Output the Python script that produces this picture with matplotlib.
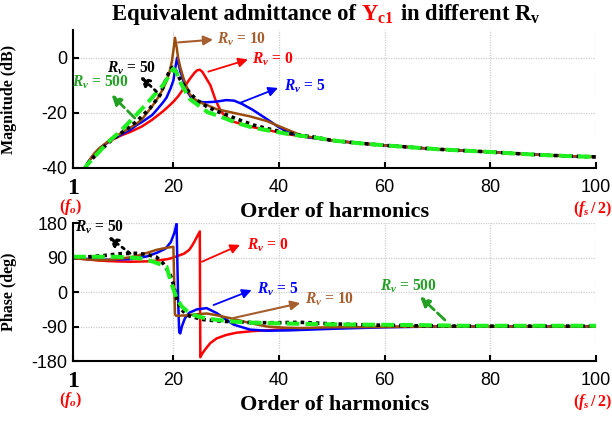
import matplotlib
matplotlib.use("Agg")
import matplotlib.pyplot as plt
from matplotlib.offsetbox import TextArea, HPacker, AnchoredOffsetbox

plt.rcParams["mathtext.fontset"] = "custom"
plt.rcParams["mathtext.rm"] = "Liberation Serif:bold"
plt.rcParams["mathtext.bf"] = "Liberation Serif:bold"
plt.rcParams["mathtext.it"] = "Liberation Serif:italic:bold"
plt.rcParams["axes.unicode_minus"] = False

SERIF = "Liberation Serif"
SANS = "Liberation Sans"

RED = "#ff0000"
BLUE = "#0000ff"
BROWN = "#9a4c0c"
BLACK = "#000000"
GREEN = "#1ff01f"
GREEN_TXT = "#23a023"
BROWN_TXT = "#a65e2e"

# magnitude (dB) vs harmonic order
tail_h = [50, 55, 60, 65, 70, 75, 80, 85, 90, 95, 100]
tail_db = [-30.0, -31.0, -31.8, -32.5, -33.2, -33.7, -34.2, -34.8, -35.3, -35.7, -36.0]

mag_r0_h = [3.0, 4, 5, 6, 8, 10, 12, 14, 16, 18, 19, 20, 21, 22, 23, 24, 24.5, 25, 25.5, 26, 27, 28, 29, 30,
            31.3, 34.5, 37.7, 40.8, 44, 47] + tail_h
mag_r0_db = [-41, -37.5, -35, -33, -30.2, -28.3, -26.8, -25, -22.5, -19.5, -17.8, -16, -13.8, -11, -8, -5.5,
             -4.6, -4.4, -5.2, -6.8, -10, -15.5, -19.5, -21.5, -23.2, -25, -26.2, -27.4, -28.5, -29.3] + tail_db

mag_r5_h = [3.0, 4, 5, 6, 8, 10, 12, 13, 14, 16, 17, 18, 18.7, 19.5, 20, 20.3, 20.7, 21, 21.3, 21.6, 22, 22.5,
            23.5, 24.5, 26, 28, 30, 31.5, 33, 35, 37.7, 40, 42, 44, 47] + tail_h
mag_r5_db = [-41, -37.5, -35, -33, -30, -28, -26, -24.5, -23.4, -20.8, -18.6, -16.3, -14.5, -11, -8.3, -4.5, 0,
             -2.5, -5, -6.5, -9.2, -12, -14.8, -15.9, -16.2, -16, -15.4, -15.6, -16.8, -18.9, -22.3, -25.3,
             -27.2, -28.4, -29.3] + tail_db

mag_r10_h = [3.0, 4, 5, 6, 8, 10, 12, 13, 14, 16, 17, 18, 18.7, 19.3, 19.7, 20.0, 20.3, 20.6, 20.9, 21.3, 21.9,
             22.5, 23.1, 24, 25, 27, 28.2, 31.3, 34.5, 37.7, 40.8, 44, 47] + tail_h
mag_r10_db = [-41, -37.5, -34.8, -32.8, -29.8, -27.5, -25.2, -24, -22.5, -17.6, -14.8, -11.5, -8.6, -5, -1.5, 2.5,
              7.2, 4, -0.1, -3.5, -7.4, -10.5, -13.3, -15, -16.2, -17.7, -18.7, -20, -21.3, -23, -25.5, -28,
              -29.2] + tail_db

mag_r50_h = [3.0, 4, 5.2, 6.5, 8, 10.5, 13, 15.6, 17.5, 18.7, 19.4, 20, 20.5, 21.3, 22.2, 23.1, 24.5, 26.3, 28,
             30, 32.5, 35.1, 37.5, 40.2, 43, 47] + tail_h
mag_r50_db = [-41, -38, -35.5, -33, -30.4, -26.8, -23.2, -18.3, -13.5, -7.4, -4.2, -3.3, -5, -8, -10.5, -12.8,
              -15.5, -17.7, -19.3, -20.7, -22.6, -24.4, -25.6, -26.8, -27.8, -28.9] + tail_db

mag_r500_h = [3.0, 3.6, 6, 8, 9.9, 13, 15.6, 18.1, 19.2, 20, 20.6, 21.2, 21.9, 23.1, 25, 26.5, 28.8, 32, 35.1,
              38.5, 42.7, 47] + tail_h
mag_r500_db = [-41, -39, -34, -30, -26.8, -20.7, -15.3, -9.8, -6.5, -4, -5.5, -8.5, -11, -15, -17.7, -19.8,
               -21.3, -23.7, -25.4, -26.6, -28, -29] + tail_db

# phase (deg) vs harmonic order
ph_r0_h = [1, 3, 6, 9, 12, 15, 17, 19, 20, 22, 23, 23.5, 24, 24.5, 25, 25.1, 25.4, 26, 27, 28.2, 30, 32, 35, 40,
           45, 50, 60, 70, 80, 90, 100]
ph_r0_deg = [89, 86, 82, 80, 79, 80, 82, 86, 90, 100, 110, 120, 132, 145, 158, -170, -162, -150, -133, -121,
             -112, -106, -102, -98, -95, -93, -91, -90, -90, -90, -90]

ph_r5_h = [1, 4, 8, 12, 15, 17, 18.5, 19.5, 20.2, 20.6, 20.9, 21.1, 21.3, 21.6, 22.2, 23, 24.5, 26.3, 28.2, 30,
           31.4, 34.5, 37.7, 42, 50, 60, 70, 80, 90, 100]
ph_r5_deg = [89, 86, 84, 86, 93, 103, 113, 130, 155, 178, -20, -105, -108, -90, -68, -54, -45, -42, -55, -72,
             -85, -98, -101, -100, -96, -92, -90, -90, -90, -90]

ph_r10_h = [1, 3, 6.1, 9, 12.4, 15, 16.8, 18.5, 20.0, 20.3, 20.5, 22.5, 24.5, 26.3, 28, 30, 31.3, 34.5, 37.7,
            41, 44, 50, 60, 70, 80, 90, 100]
ph_r10_deg = [88, 86, 83, 85, 92, 102, 110, 115, 118, -58, -62, -61, -58, -56, -60, -66, -70, -81, -90, -93,
              -94, -92, -91, -90, -90, -90, -90]

ph_r50_h = [1, 4, 6.7, 10, 13, 15, 16.8, 18.1, 19.4, 20, 20.6, 21.3, 22.2, 23.1, 25.7, 28, 31.3, 36, 40, 44,
            50, 57, 65, 75, 85, 100]
ph_r50_deg = [90, 92, 95, 100, 101, 98, 91, 74, 45, 20, -16, -42, -55, -63, -72, -75, -78, -80, -80, -79,
              -83, -86, -88, -89, -89, -89]

ph_r500_h = [1, 5, 9.3, 13.7, 16.2, 18.7, 19.6, 20.6, 21.6, 23.1, 24.5, 26.3, 28.5, 31.3, 35, 40.8, 48, 55,
             65, 75, 85, 100]
ph_r500_deg = [92, 92, 92, 88, 79, 66, 23, -16, -38, -56, -63, -69, -73, -77, -80, -82, -84, -85, -86, -88,
               -88, -88]

xticks = [1, 20, 40, 60, 80, 100]
xtick_labels = ["", "20", "40", "60", "80", "100"]
mag_ticks = [-40, -20, 0]
mag_labels = ["-40", "-20", "0"]
ph_ticks = [-180, -90, 0, 90, 180]
ph_labels = ["-180", "-90", "0", "90", "180"]

fig = plt.figure(figsize=(6.12, 4.28), dpi=100)
ax1 = fig.add_axes([0.1193, 0.6075, 0.8546, 0.3224])
ax2 = fig.add_axes([0.1193, 0.1565, 0.8546, 0.3224])


def draw_set(ax, data):
    (h0, y0), (h5, y5), (h10, y10), (h50, y50), (h500, y500) = data
    ax.plot(h0, y0, color=RED, lw=1.8)
    ax.plot(h5, y5, color=BLUE, lw=1.8)
    ax.plot(h10, y10, color=BROWN, lw=1.8)
    ax.plot(h50, y50, color=BLACK, lw=2.6, dashes=(1, 1.1), dash_capstyle="butt")
    ax.plot(h500, y500, color=GREEN, lw=2.9, dashes=(3.2, 1.5), dash_capstyle="butt")


draw_set(ax1, [(mag_r0_h, mag_r0_db), (mag_r5_h, mag_r5_db), (mag_r10_h, mag_r10_db),
               (mag_r50_h, mag_r50_db), (mag_r500_h, mag_r500_db)])
draw_set(ax2, [(ph_r0_h, ph_r0_deg), (ph_r5_h, ph_r5_deg), (ph_r10_h, ph_r10_deg),
               (ph_r50_h, ph_r50_deg), (ph_r500_h, ph_r500_deg)])

for ax, yt, yl, lim, ylab in [(ax1, mag_ticks, mag_labels, (-40, 10), "Magnitude (dB)"),
                              (ax2, ph_ticks, ph_labels, (-180, 180), "Phase (deg)")]:
    ax.set_xlim(1, 100)
    ax.set_ylim(*lim)
    ax.set_xticks(xticks)
    ax.set_xticklabels(xtick_labels, fontfamily=SANS, fontsize=13)
    ax.set_yticks(yt)
    ax.set_yticklabels(yl, fontfamily=SANS, fontsize=13)
    ax.tick_params(direction="in", length=4, width=1.5, color="black")
    ax.tick_params(axis="x", pad=8)
    ax.tick_params(axis="y", pad=4)
    ax.grid(True, color="#cfcfcf", lw=0.9, linestyle=(0, (1, 1)))
    ax.set_axisbelow(True)
    for s in ["top", "right"]:
        ax.spines[s].set_visible(False)
    for s in ["left", "bottom"]:
        ax.spines[s].set_linewidth(1.5)
    ax.set_ylabel(ylab, fontfamily=SERIF, fontweight="bold", fontsize=11.5)
    ax.yaxis.set_label_coords(-0.107, 0.5)
    ax.text(1, -0.15, "1", transform=ax.get_xaxis_transform(), ha="center", va="center",
            fontfamily=SERIF, fontweight="bold", fontsize=17)
    ax.text(0.5, -0.285, "$(f_o)$", transform=ax.get_xaxis_transform(), ha="center", va="center",
            color=RED, fontsize=11.5)
    ax.text(103, -0.30, r"$(f_s\,/\,2)$", transform=ax.get_xaxis_transform(), ha="right", va="center",
            color=RED, fontsize=11.5)
    ax.set_xlabel("Order of harmonics", fontfamily=SERIF, fontweight="bold", fontsize=16, labelpad=4)


def label(ax, tag, value, color, xy_text, tail, head, ls="-", lw=1.3, ha="left"):
    ax.annotate("", xy=head, xytext=tail,
                arrowprops=dict(arrowstyle="-|>", color=color, lw=lw, linestyle=ls,
                                mutation_scale=14, shrinkA=0, shrinkB=0))
    ax.text(xy_text[0], xy_text[1], tag + " = " + value, color=color, ha=ha, va="center",
            fontfamily=SERIF, fontweight="bold", fontsize=11.2)


RV = r"$R_v$"

# magnitude labels
label(ax1, RV, "10", BROWN_TXT, (28.3, 6.5), (20.9, 5.5), (27.5, 6.5), lw=1.5)
label(ax1, RV, "0", RED, (34.9, -0.7), (26.6, -5.1), (34.1, -0.7))
label(ax1, RV, "5", BLUE, (41.0, -10.5), (32.5, -16.5), (39.8, -11.0))
label(ax1, RV, "50", BLACK, (12.1, -3.7), (16.8, -12.3), (13.7, -6.8), ls=":", lw=2, ha="center")
label(ax1, RV, "500", GREEN_TXT, (6.1, -9.0), (12.7, -21.9), (8.3, -13.5), ls="--", lw=2, ha="center")

# phase labels
label(ax2, RV, "50", BLACK, (6.1, 170), (11.8, 101), (7.7, 144), ls=":", lw=2, ha="center")
label(ax2, RV, "0", RED, (33.9, 123), (25.4, 79), (32.6, 123))
label(ax2, RV, "5", BLUE, (35.8, 7), (27.6, -34), (34.8, 5))
label(ax2, RV, "10", BROWN_TXT, (44.9, -20), (31.3, -68), (44.0, -29), lw=1.5)
label(ax2, RV, "500", GREEN_TXT, (64.4, 16), (71.4, -73), (66.7, -12), ls="--", lw=2, ha="center")

# title with the red Y_c1 part
tprops = dict(fontfamily=SERIF, fontweight="bold", fontsize=16.3, color="black")
parts = [TextArea("Equivalent admittance of", textprops=tprops),
         TextArea(r"$\mathrm{Y_{c1}}$", textprops=dict(fontsize=16.3, color=RED)),
         TextArea(r"in different R$_\mathrm{v}$", textprops=tprops)]
box = HPacker(children=parts, align="baseline", pad=0, sep=4)
anchored = AnchoredOffsetbox(loc="center", child=box, pad=0, frameon=False,
                             bbox_to_anchor=(326 / 612, 1 - 14 / 428), bbox_transform=fig.transFigure)
fig.add_artist(anchored)

fig.savefig("out.png", dpi=100)
